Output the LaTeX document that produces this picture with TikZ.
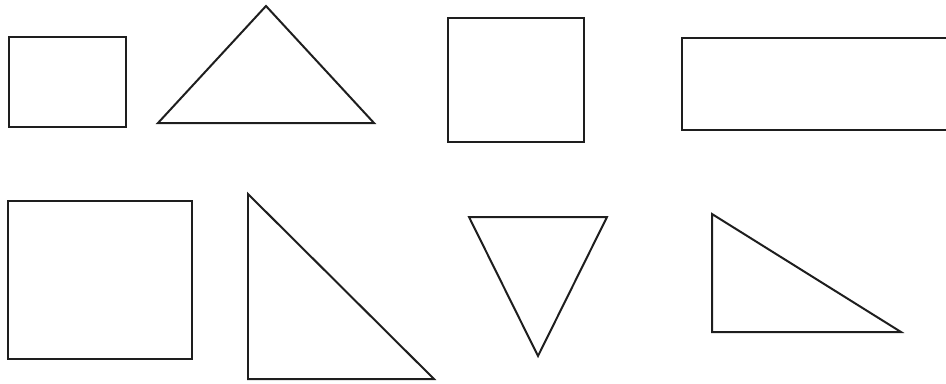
\documentclass[tikz,border=0pt]{standalone}
\usepackage{tikz}
\definecolor{edge}{HTML}{1E1E1E}

\begin{document}
\begin{tikzpicture}[
  x=0.03cm, y=-0.03cm,
  outline/.style={draw=edge, line width=1.7pt, line join=miter},
]
\useasboundingbox (0,0) rectangle (946,383);

% top row
\draw[outline] (9,37) rectangle (126,127);
\draw[outline] (158,123) -- (266,6) -- (374,123) -- cycle;
\draw[outline] (448,18) rectangle (584,142);
\draw[outline] (682,38) rectangle (960,130);

% bottom row
\draw[outline] (8,201) rectangle (192,359);
\draw[outline] (248,194) -- (248,379) -- (434,379) -- cycle;
\draw[outline] (469,217) -- (607,217) -- (538,356) -- cycle;
\draw[outline] (712,214) -- (712,332) -- (901,332) -- cycle;
\end{tikzpicture}
\end{document}
